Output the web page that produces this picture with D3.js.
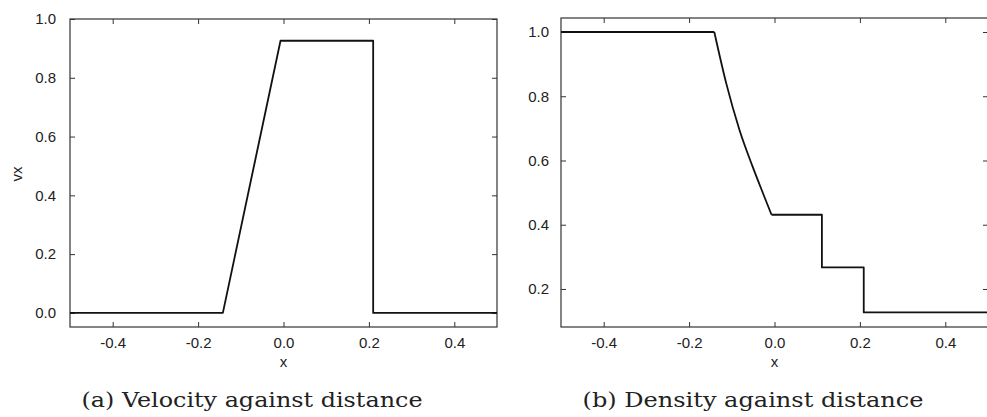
<!DOCTYPE html>
<html>

<head>
  <meta charset="utf-8">
  <title>Velocity and density against distance</title>
  <style>
    body { margin: 0; background: #fff; }
    .tick text { font-family: 'Liberation Sans', Arial, sans-serif; font-size: 15px; fill: #222; }
    .axis path { display: none; }
    .axis line { stroke: #333; }
    .frame { fill: none; stroke: #333; stroke-width: 1.2; }
    .curve { fill: none; stroke: #111; stroke-width: 1.8; stroke-linejoin: round; }
    .axis-title { font-family: 'Liberation Sans', Arial, sans-serif; font-size: 15px; fill: #222; }
    .caption { font-family: 'DejaVu Serif', serif; font-size: 21px; fill: #222; }
  </style>
</head>

<body>
  <div class="chart-container"></div>
  <script src="https://cdn.jsdelivr.net/npm/d3@7"></script>
  <script>
    // values
    var velocityX = [-0.5, -0.142, -0.007, 0.21, 0.21, 0.5];
    var velocityV = [0, 0, 0.926, 0.926, 0, 0];

    var densityX = [-0.5, -0.141, -0.113, -0.082, -0.051, -0.027, -0.007, 0.111, 0.111, 0.209, 0.209, 0.5];
    var densityV = [1.0, 1.0, 0.84, 0.695, 0.58, 0.498, 0.431, 0.431, 0.267, 0.267, 0.127, 0.127];
    // points from index 1 to 6 lie on the smooth rarefaction fan
    var densityFan = [1, 6];

    var xTicks = [-0.4, -0.2, 0.0, 0.2, 0.4];
    var velocityTicks = [0.0, 0.2, 0.4, 0.6, 0.8, 1.0];
    var densityTicks = [0.2, 0.4, 0.6, 0.8, 1.0];

    var width = 987, height = 417;
    var tickLen = 5;

    var svg = d3.select('.chart-container').append('svg')
      .attr('width', width)
      .attr('height', height);

    // plain hyphen for negatives, like the original plot
    function fmt(d) { return d3.format('.1f')(d).replace('\u2212', '-'); }

    function drawPanel(opts) {
      var x = d3.scaleLinear().domain([-0.5, 0.5]).range([opts.left, opts.right]);
      var y = d3.scaleLinear().domain(opts.yDomain).range([opts.bottom, opts.top]);
      var g = svg.append('g');

      // mirrored ticks on all four sides, pointing inward
      g.append('g').attr('class', 'axis')
        .attr('transform', 'translate(0,' + opts.bottom + ')')
        .call(d3.axisBottom(x).tickValues(xTicks).tickSize(-tickLen).tickPadding(10).tickFormat(fmt));
      g.append('g').attr('class', 'axis')
        .attr('transform', 'translate(0,' + opts.top + ')')
        .call(d3.axisTop(x).tickValues(xTicks).tickSize(-tickLen).tickFormat(''));
      g.append('g').attr('class', 'axis')
        .attr('transform', 'translate(' + opts.left + ',0)')
        .call(d3.axisLeft(y).tickValues(opts.yTicks).tickSize(-tickLen).tickPadding(opts.labelGap).tickFormat(fmt));
      g.append('g').attr('class', 'axis')
        .attr('transform', 'translate(' + opts.right + ',0)')
        .call(d3.axisRight(y).tickValues(opts.yTicks).tickSize(-tickLen).tickFormat(''));

      g.append('rect').attr('class', 'frame')
        .attr('x', opts.left).attr('y', opts.top)
        .attr('width', opts.right - opts.left)
        .attr('height', opts.bottom - opts.top);

      var pts = d3.zip(opts.xs, opts.ys);
      var line = d3.line()
        .x(function (d) { return x(d[0]); })
        .y(function (d) { return y(d[1]); });

      if (opts.fan) {
        var a = opts.fan[0], b = opts.fan[1];
        g.append('path').attr('class', 'curve').attr('d', line(pts.slice(0, a + 1)));
        g.append('path').attr('class', 'curve')
          .attr('d', line.curve(d3.curveMonotoneX)(pts.slice(a, b + 1)));
        line.curve(d3.curveLinear);
        g.append('path').attr('class', 'curve').attr('d', line(pts.slice(b)));
      } else {
        g.append('path').attr('class', 'curve').attr('d', line(pts));
      }

      g.append('text').attr('class', 'axis-title')
        .attr('x', x(0)).attr('y', 367)
        .attr('text-anchor', 'middle')
        .text('x');

      if (opts.yTitle) {
        g.append('text').attr('class', 'axis-title')
          .attr('transform', 'translate(22,' + opts.yTitleY + ') rotate(-90)')
          .attr('text-anchor', 'middle')
          .text(opts.yTitle);
      }

      g.append('text').attr('class', 'caption')
        .attr('x', opts.captionX).attr('y', 407)
        .attr('text-anchor', 'middle')
        .attr('textLength', 341)
        .attr('lengthAdjust', 'spacingAndGlyphs')
        .text(opts.caption);
    }

    drawPanel({
      left: 70, right: 497, top: 19, bottom: 327,
      yDomain: [-0.048, 1.0], yTicks: velocityTicks, labelGap: 14,
      xs: velocityX, ys: velocityV,
      yTitle: 'vx', yTitleY: 174,
      caption: '(a) Velocity against distance', captionX: 252
    });

    drawPanel({
      left: 561, right: 988, top: 18, bottom: 327,
      yDomain: [0.0816, 1.0436], yTicks: densityTicks, labelGap: 12,
      xs: densityX, ys: densityV, fan: densityFan,
      caption: '(b) Density against distance', captionX: 753
    });
  </script>
</body>

</html>
